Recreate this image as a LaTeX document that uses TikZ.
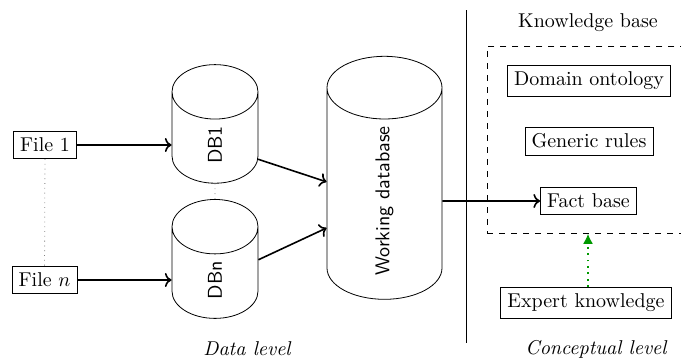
\documentclass[tikz,border=0pt]{standalone}
\usetikzlibrary{shapes.geometric,arrows.meta}
\begin{document}
\begin{tikzpicture}[x=0.5pt,y=-0.5pt,
  box/.style={draw},
  cyl/.style={cylinder, draw, rotate=90, font=\sffamily, aspect=2},
  flow/.style={->, thick},
  link/.style={gray, dotted},
  expflow/.style={-{Latex[length=5pt,width=5pt]}, thick, dash pattern=on 0.9pt off 2.3pt, green!60!black}]
\useasboundingbox (0,0) rectangle (681,360);
% files
\node[box] (f1) at (45,145) {File 1};
\node[box] (fn) at (44.5,280) {File $n$};
% databases
\node[cyl, minimum height=59pt, minimum width=43pt] (db1) at (215,145) {DB1};
\node[cyl, minimum height=59pt, minimum width=43pt] (dbn) at (215,280) {DBn};
\node[cyl, minimum height=121.5pt, minimum width=57.5pt] (wd) at (384.5,201) {Working database};
% divider
\coordinate (dtop) at (466,10);
\coordinate (dbot) at (466,343);
\draw (dtop) -- (dbot);
% knowledge base
\node (kbl) at (588,23) {Knowledge base};
\node[draw, dashed, minimum width=120pt, minimum height=93.5pt, anchor=north west, inner sep=0pt] (kb) at (487,46) {};
\node[box] (dom) at (589,81) {Domain ontology};
\node[box] (gen) at (589,141) {Generic rules};
\node[box] (fb) at (588.5,201) {Fact base};
\node[box] (ek) at (586,303) {Expert knowledge};
% labels
\node[font=\itshape] (dl) at (247,349) {Data level};
\node[font=\itshape] (cl) at (596,349) {Conceptual level};
% connectors
\draw[link] (f1) -- (fn);
\draw[link] (db1) -- (dbn);
\draw[flow] (f1) -- (db1);
\draw[flow] (fn) -- (dbn);
\draw[flow] (db1) -- (wd);
\draw[flow] (dbn) -- (wd);
\draw[flow] (wd) -- (fb);
\draw[expflow] (ek.north -| 588,0) -- (kb.south -| 588,0);
\end{tikzpicture}
\end{document}
